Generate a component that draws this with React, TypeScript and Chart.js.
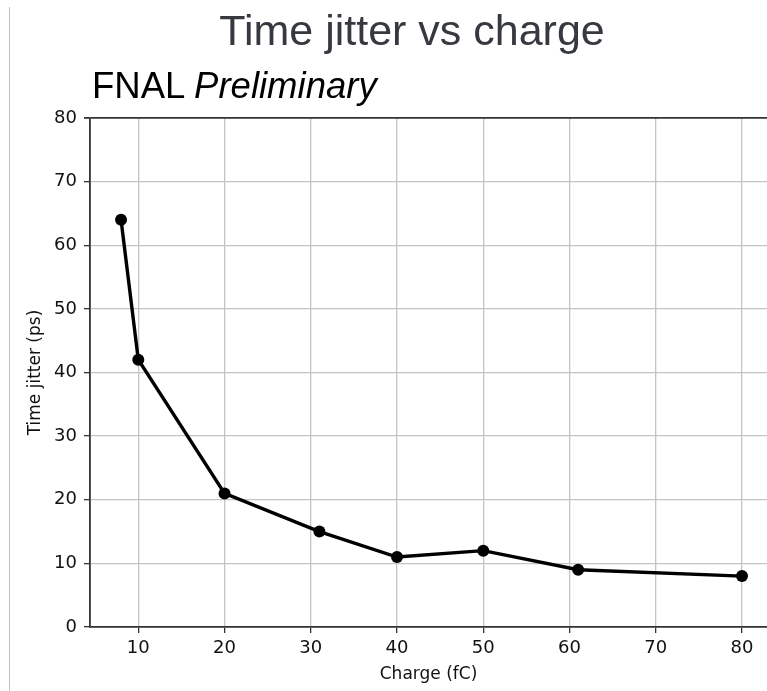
import React, { useEffect, useRef } from "react";
import { Chart, registerables } from "chart.js";

Chart.register(...registerables);

const charge = [8, 10, 20, 31, 40, 50, 61, 80];
const jitter = [64, 42, 21, 15, 11, 12, 9, 8];
const xTicks = [10, 20, 30, 40, 50, 60, 70, 80];
const yTicks = [0, 10, 20, 30, 40, 50, 60, 70, 80];
const titleText = "Time jitter vs charge";
const xTitle = "Charge (fC)";
const yTitle = "Time jitter (ps)";

export default function App() {
  const ref = useRef<HTMLCanvasElement>(null);
  useEffect(() => {
    document.body.style.margin = "0";
    const canvas = ref.current!;
    const chart = new Chart(canvas, {
      type: "line",
      data: {
        datasets: [
          {
            data: charge.map((x, i) => ({ x, y: jitter[i] })),
            borderColor: "#000",
            backgroundColor: "#000",
            borderWidth: 3.4,
            pointRadius: 6,
            pointBackgroundColor: "#000",
            pointBorderWidth: 0,
            tension: 0,
            fill: false,
          },
        ],
      },
      options: {
        responsive: false,
        animation: false,
        layout: { padding: { left: 0, top: 118, right: 0, bottom: 0 }, autoPadding: false },
        plugins: { legend: { display: false }, tooltip: { enabled: false }, title: { display: false } },
        scales: {
          x: {
            type: "linear",
            min: 4.4,
            max: 82.9,
            afterBuildTicks: (s: any) => {
              s.ticks = xTicks.map((v) => ({ value: v }));
            },
            afterFit: (s: any) => {
              s.height = 64;
            },
            ticks: {
              color: "#111",
              font: { family: "DejaVu Sans", size: 18 },
              padding: 5,
              maxRotation: 0,
              callback: (v: any) => String(v),
            },
            grid: {
              color: "#c4c4c4",
              lineWidth: 1.3,
              tickColor: "#333",
              tickLength: 6,
              drawTicks: true,
            },
            border: { display: true, color: "#333", width: 1.8 },
            title: {
              display: true,
              text: xTitle,
              color: "#111",
              font: { family: "DejaVu Sans", size: 17 },
              padding: { top: 0, bottom: 6 },
            },
          },
          y: {
            type: "linear",
            min: 0,
            max: 80,
            afterBuildTicks: (s: any) => {
              s.ticks = yTicks.map((v) => ({ value: v }));
            },
            afterFit: (s: any) => {
              s.width = 90;
            },
            ticks: {
              color: "#111",
              font: { family: "DejaVu Sans", size: 18 },
              padding: 7,
              callback: (v: any) => String(v),
            },
            grid: {
              color: (c: any) => (c.tick && c.tick.value === 80 ? "#333" : "#c4c4c4"),
              lineWidth: (c: any) => (c.tick && c.tick.value === 80 ? 1.8 : 1.3),
              tickColor: "#333",
              tickLength: 6,
              drawTicks: true,
            },
            border: { display: true, color: "#333", width: 1.8 },
            title: {
              display: true,
              text: yTitle,
              color: "#111",
              font: { family: "DejaVu Sans", size: 17 },
              padding: { top: 25, bottom: 0 },
            },
          },
        },
      },
    });
    return () => chart.destroy();
  }, []);

  return (
    <div style={{ position: "relative", width: 767, height: 691, overflow: "hidden", background: "#fff" }}>
      <div style={{ position: "absolute", left: 9, top: 7, width: 1, height: 684, background: "#c0c0c0" }} />
      <canvas ref={ref} width={767} height={691} style={{ position: "absolute", left: 0, top: 0, width: 767, height: 691 }} />
      <div
        style={{
          position: "absolute",
          left: 412,
          top: 9,
          transform: "translateX(-50%)",
          whiteSpace: "nowrap",
          fontFamily: "'Liberation Sans', Arial, sans-serif",
          fontSize: 43,
          lineHeight: 1,
          color: "#363a40",
        }}
      >
        {titleText}
      </div>
      <div
        style={{
          position: "absolute",
          left: 92,
          top: 68,
          whiteSpace: "nowrap",
          fontFamily: "'Liberation Sans', Arial, sans-serif",
          fontSize: 36.5,
          lineHeight: 1,
          color: "#000",
        }}
      >
        FNAL <i>Preliminary</i>
      </div>
    </div>
  );
}
